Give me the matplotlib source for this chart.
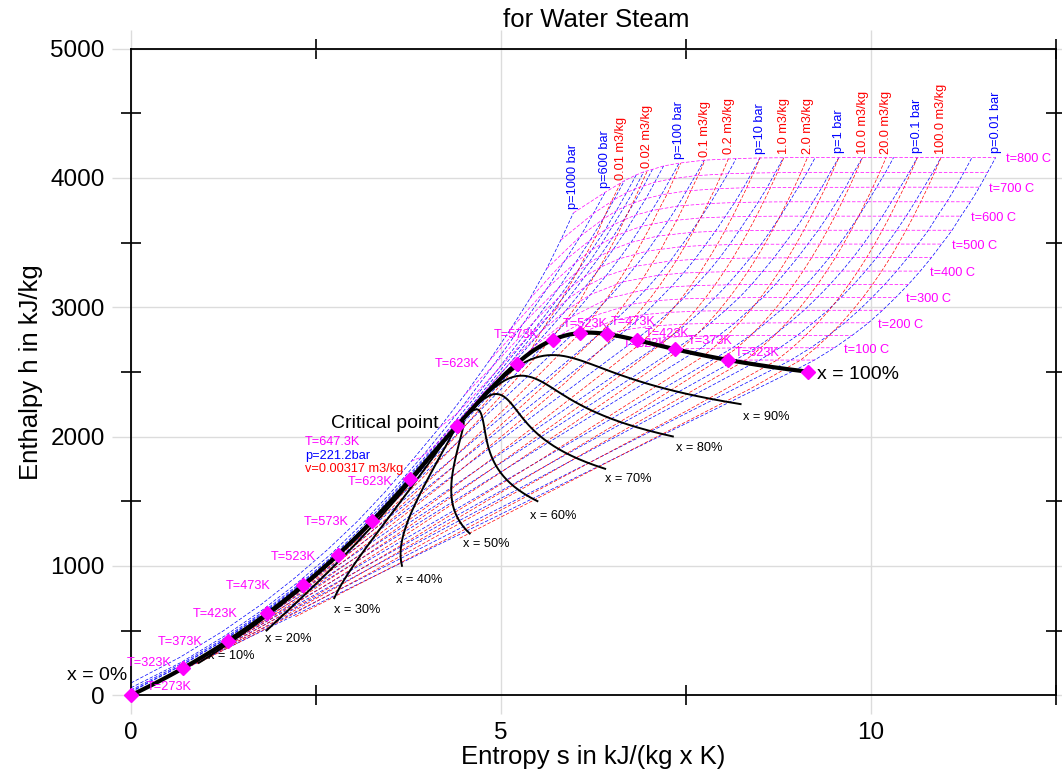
import numpy as np
import matplotlib
matplotlib.use('Agg')
import matplotlib.pyplot as plt

plt.rcParams['font.family'] = ['Liberation Sans', 'DejaVu Sans']

nan = np.nan

# saturated water / steam in 10 C steps, last row is the critical point
t_sat = [0.01, 10, 20, 30, 40, 50, 60, 70, 80, 90, 100, 110, 120, 130, 140, 150,
         160, 170, 180, 190, 200, 210, 220, 230, 240, 250, 260, 270, 280, 290, 300,
         310, 320, 330, 340, 350, 360, 370, 374.15]
h_liq = [0.0, 42.0, 83.9, 125.8, 167.6, 209.3, 251.1, 293.0, 334.9, 376.9, 419.0,
         461.3, 503.7, 546.3, 589.1, 632.2, 675.6, 719.2, 763.2, 807.6, 852.5, 897.8,
         943.6, 990.1, 1037.3, 1085.4, 1134.4, 1184.5, 1236.0, 1289.1, 1344.0, 1401.3,
         1461.5, 1525.3, 1594.2, 1670.6, 1760.5, 1890.5, 2084.3]
h_vap = [2501.4, 2519.8, 2538.1, 2556.3, 2574.3, 2592.1, 2609.6, 2626.8, 2643.7,
         2660.1, 2676.1, 2691.5, 2706.3, 2720.5, 2733.9, 2746.5, 2758.1, 2768.7,
         2778.2, 2786.4, 2793.2, 2798.5, 2802.1, 2804.0, 2803.8, 2801.5, 2796.6,
         2789.7, 2779.6, 2766.2, 2749.0, 2727.3, 2700.1, 2666.3, 2622.0, 2563.9,
         2481.0, 2332.1, 2084.3]
s_liq = [0.0, 0.1510, 0.2966, 0.4369, 0.5725, 0.7038, 0.8312, 0.9549, 1.0753, 1.1925,
         1.3069, 1.4185, 1.5276, 1.6344, 1.7391, 1.8418, 1.9427, 2.0419, 2.1396, 2.2359,
         2.3309, 2.4248, 2.5178, 2.6099, 2.7015, 2.7927, 2.8838, 2.9751, 3.0668, 3.1594,
         3.2534, 3.3493, 3.4480, 3.5507, 3.6594, 3.7777, 3.9147, 4.1106, 4.407]
s_vap = [9.1562, 8.9008, 8.6672, 8.4533, 8.2570, 8.0763, 7.9096, 7.7553, 7.6122,
         7.4791, 7.3549, 7.2387, 7.1296, 7.0269, 6.9299, 6.8379, 6.7502, 6.6663,
         6.5857, 6.5079, 6.4323, 6.3585, 6.2861, 6.2146, 6.1437, 6.0730, 6.0019,
         5.9301, 5.8571, 5.7821, 5.7045, 5.6230, 5.5362, 5.4417, 5.3357, 5.2112,
         5.0526, 4.7971, 4.407]
v_liq = [0.001000, 0.001000, 0.001002, 0.001004, 0.001008, 0.001012, 0.001017,
         0.001023, 0.001029, 0.001036, 0.001044, 0.001052, 0.001060, 0.001070,
         0.001080, 0.001091, 0.001102, 0.001114, 0.001127, 0.001141, 0.001157,
         0.001173, 0.001190, 0.001209, 0.001229, 0.001251, 0.001276, 0.001302,
         0.001332, 0.001366, 0.001404, 0.001447, 0.001499, 0.001561, 0.001638,
         0.001740, 0.001893, 0.002213, 0.00317]
v_vap = [206.1, 106.4, 57.79, 32.89, 19.52, 12.03, 7.671, 5.042, 3.407, 2.361, 1.673,
         1.210, 0.8919, 0.6685, 0.5089, 0.3928, 0.3071, 0.2428, 0.1941, 0.1565,
         0.1274, 0.1044, 0.08619, 0.07158, 0.05976, 0.05013, 0.04221, 0.03564,
         0.03017, 0.02557, 0.02167, 0.01835, 0.01549, 0.01300, 0.01080, 0.008813,
         0.006945, 0.004925, 0.00317]

# isotherms of the superheated / supercritical grid (C)
t_grid = [0, 50, 100, 150, 200, 250, 300, 350, 400, 450, 500, 550, 600, 650, 700, 750, 800]

# isobars (bar)
p_bar = [1000, 600, 400, 300, 250, 200, 150, 100, 50, 20, 10, 5, 2, 1, 0.5, 0.2, 0.1,
         0.05, 0.02, 0.01]
p_labelled = [1000, 600, 100, 10, 1, 0.1, 0.01]
p_crit = 221.2

# saturation points of the subcritical isobars
p_sub = [200, 150, 100, 50, 20, 10, 5, 2, 1, 0.5, 0.2, 0.1, 0.05, 0.02, 0.01]
s_liq_p = [4.014, 3.685, 3.360, 2.920, 2.447, 2.139, 1.861, 1.530, 1.303, 1.091,
           0.832, 0.649, 0.476, 0.261, 0.106]
h_liq_p = [1826.5, 1610.5, 1407.6, 1154.2, 908.8, 762.8, 640.2, 504.7, 417.5, 340.5,
           251.4, 191.8, 137.8, 73.5, 29.3]
s_vap_p = [4.930, 5.310, 5.614, 5.973, 6.341, 6.587, 6.821, 7.127, 7.359, 7.594,
           7.909, 8.150, 8.395, 8.724, 8.976]
h_vap_p = [2410.0, 2610.5, 2724.7, 2794.3, 2799.5, 2778.1, 2748.7, 2706.7, 2675.5,
           2645.9, 2609.7, 2584.7, 2561.5, 2533.9, 2514.2]

h_lowp = [nan, 2592, 2687, 2783, 2880, 2977, 3077, 3177, 3280, 3384, 3489, 3596, 3705,
          3816, 3929, 4043, 4159]

# entropy on t_grid, one row per isobar
s_p = [
    [0.00, 0.66, 1.24, 1.755, 2.22, 2.655, 3.06, 3.43, 3.79, 4.17, 4.52, 4.84, 5.13, 5.39, 5.62, 5.81, 5.98],
    [0.00, 0.68, 1.27, 1.79, 2.26, 2.71, 3.13, 3.50, 3.93, 4.41, 4.89, 5.31, 5.63, 5.87, 6.08, 6.25, 6.41],
    [0.00, 0.68, 1.28, 1.80, 2.28, 2.73, 3.14, 3.56, 4.11, 4.95, 5.47, 5.78, 6.01, 6.21, 6.38, 6.53, 6.67],
    [0.00, 0.69, 1.29, 1.81, 2.29, 2.74, 3.17, 3.66, 4.47, 5.44, 5.79, 6.03, 6.23, 6.41, 6.56, 6.70, 6.83],
    [0.00, 0.69, 1.29, 1.82, 2.30, 2.75, 3.19, 3.72, 5.14, 5.67, 5.96, 6.18, 6.36, 6.52, 6.67, 6.81, 6.93],
    [nan, nan, nan, nan, nan, nan, nan, nan, 5.55, 5.90, 6.14, 6.34, 6.51, 6.66, 6.80, 6.93, 7.05],
    [nan, nan, nan, nan, nan, nan, nan, 5.44, 5.88, 6.14, 6.35, 6.52, 6.68, 6.82, 6.96, 7.08, 7.20],
    [nan, nan, nan, nan, nan, nan, nan, 5.95, 6.21, 6.42, 6.60, 6.76, 6.90, 7.04, 7.17, 7.29, 7.41],
    [nan, nan, nan, nan, nan, nan, 6.21, 6.45, 6.65, 6.82, 6.98, 7.12, 7.26, 7.39, 7.51, 7.63, 7.75],
    [nan, nan, nan, nan, nan, 6.55, 6.77, 6.96, 7.13, 7.29, 7.43, 7.57, 7.70, 7.83, 7.95, 8.07, 8.18],
    [nan, nan, nan, nan, 6.70, 6.93, 7.12, 7.30, 7.47, 7.62, 7.76, 7.90, 8.03, 8.16, 8.28, 8.39, 8.50],
    [nan, nan, nan, nan, 7.06, 7.27, 7.46, 7.63, 7.80, 7.95, 8.09, 8.22, 8.35, 8.48, 8.60, 8.71, 8.82],
    [nan, nan, nan, 7.28, 7.51, 7.71, 7.89, 8.06, 8.22, 8.37, 8.52, 8.65, 8.78, 8.90, 9.02, 9.14, 9.25],
    [nan, nan, 7.36, 7.61, 7.83, 8.03, 8.22, 8.39, 8.54, 8.69, 8.83, 8.97, 9.10, 9.22, 9.34, 9.45, 9.57],
    [nan, nan, 7.70, 7.94, 8.16, 8.35, 8.54, 8.71, 8.86, 9.01, 9.15, 9.29, 9.42, 9.54, 9.66, 9.77, 9.89],
    [nan, nan, 8.13, 8.37, 8.58, 8.78, 8.96, 9.13, 9.29, 9.44, 9.58, 9.71, 9.84, 9.96, 10.08, 10.20, 10.31],
    [nan, 8.17, 8.45, 8.69, 8.90, 9.10, 9.28, 9.45, 9.61, 9.76, 9.90, 10.03, 10.16, 10.28, 10.40, 10.52, 10.63],
    [nan, 8.50, 8.77, 9.01, 9.22, 9.42, 9.60, 9.77, 9.93, 10.08, 10.22, 10.35, 10.48, 10.60, 10.72, 10.84, 10.95],
    [nan, 8.92, 9.19, 9.43, 9.65, 9.84, 10.02, 10.19, 10.35, 10.50, 10.64, 10.78, 10.90, 11.03, 11.15, 11.26, 11.37],
    [nan, 9.24, 9.51, 9.75, 9.97, 10.16, 10.34, 10.51, 10.67, 10.82, 10.96, 11.10, 11.22, 11.35, 11.47, 11.58, 11.69],
]
# enthalpy on t_grid, one row per isobar
h_p = [
    [95, 293, 495, 700, 910, 1125, 1345, 1570, 1810, 2070, 2330, 2585, 2830, 3065, 3300, 3520, 3730],
    [58, 255, 460, 665, 875, 1095, 1330, 1560, 1843, 2180, 2545, 2880, 3150, 3365, 3553, 3725, 3890],
    [40, 244, 447, 652, 862, 1080, 1310, 1575, 1931, 2513, 2903, 3149, 3346, 3521, 3681, 3832, 3979],
    [30, 236, 440, 646, 856, 1075, 1310, 1625, 2151, 2821, 3081, 3275, 3444, 3599, 3746, 3887, 4024],
    [25, 232, 436, 643, 853, 1073, 1313, 1647, 2580, 2950, 3162, 3336, 3491, 3637, 3778, 3914, 4047],
    [nan, nan, nan, nan, nan, nan, nan, nan, 2817, 3062, 3241, 3396, 3539, 3675, 3808, 3938, 4067],
    [nan, nan, nan, nan, nan, nan, nan, 2693, 2976, 3158, 3311, 3449, 3582, 3713, 3840, 3967, 4093],
    [nan, nan, nan, nan, nan, nan, nan, 2924, 3098, 3242, 3375, 3502, 3626, 3748, 3870, 3992, 4115],
    [nan, nan, nan, nan, nan, nan, 2926, 3069, 3197, 3317, 3435, 3551, 3667, 3783, 3900, 4018, 4138],
    [nan, nan, nan, nan, nan, 2903, 3024, 3138, 3248, 3358, 3468, 3579, 3691, 3803, 3918, 4033, 4150],
    [nan, nan, nan, nan, 2828, 2943, 3052, 3158, 3265, 3371, 3479, 3588, 3699, 3810, 3924, 4038, 4155],
    [nan, nan, nan, nan, 2856, 2961, 3065, 3168, 3272, 3377, 3485, 3592, 3703, 3814, 3927, 4041, 4157],
    [nan, nan, nan, 2769, 2871, 2971, 3072, 3174, 3277, 3381, 3488, 3595, 3705, 3816, 3928, 4042, 4159],
    [nan, nan, 2676, 2776, 2875, 2974, 3074, 3176, 3278, 3382, 3488, 3596, 3705, 3816, 3928, 4042, 4159],
    [nan, nan, 2682, 2780, 2877, 2976, 3075, 3177, 3279, 3383, 3489, 3596, 3705, 3816, 3928, 4043, 4159],
    [nan, nan, 2686, 2782, 2879, 2977, 3076, 3177, 3280, 3384, 3489, 3596, 3705, 3816, 3929, 4043, 4159],
    h_lowp,
    h_lowp,
    h_lowp,
    h_lowp,
]

# isochores (m3/kg)
v_m3kg = [0.01, 0.02, 0.05, 0.1, 0.2, 0.5, 1.0, 2.0, 5.0, 10.0, 20.0, 50.0, 100.0]
v_labelled = [0.01, 0.02, 0.1, 0.2, 1.0, 2.0, 10.0, 20.0, 100.0]

# dense steam isochores on t_grid
v_dense = [0.01, 0.02, 0.05, 0.1]
s_v = [
    [nan, nan, nan, nan, nan, nan, nan, 5.40, 5.55, 5.74, 5.89, 6.04, 6.15, 6.29, 6.39, 6.50, 6.62],
    [nan, nan, nan, nan, nan, nan, nan, 5.87, 6.06, 6.19, 6.33, 6.45, 6.57, 6.67, 6.78, 6.88, 6.98],
    [nan, nan, nan, nan, nan, nan, 6.26, 6.43, 6.57, 6.70, 6.82, 6.93, 7.04, 7.14, 7.25, 7.34, 7.43],
    [nan, nan, nan, nan, nan, 6.50, 6.65, 6.80, 6.93, 7.05, 7.17, 7.27, 7.38, 7.48, 7.57, 7.67, 7.76],
]
h_v = [
    [nan, nan, nan, nan, nan, nan, nan, 2665, 2816, 2984, 3130, 3279, 3409, 3552, 3688, 3825, 3962],
    [nan, nan, nan, nan, nan, nan, nan, 2893, 3041, 3174, 3304, 3428, 3553, 3676, 3802, 3930, 4055],
    [nan, nan, nan, nan, nan, nan, 2937, 3065, 3183, 3299, 3414, 3529, 3644, 3760, 3878, 3995, 4115],
    [nan, nan, nan, nan, nan, 2893, 3011, 3124, 3232, 3343, 3454, 3563, 3675, 3790, 3904, 4022, 4138],
]

# low density steam at 1 bar on t_grid (reference for the thin isochores)
s_ref = [nan, 7.112, 7.361, 7.613, 7.834, 8.033, 8.216, 8.386, 8.544, 8.693, 8.834,
         8.969, 9.098, 9.220, 9.340, 9.454, 9.565]
h_ref = [nan, 2592, 2676, 2776, 2875, 2974, 3074, 3176, 3278, 3382, 3488, 3596, 3705,
         3816, 3928, 4042, 4159]
R_steam = 0.4615  # kJ/(kg K)

quality = [0.1, 0.2, 0.3, 0.4, 0.5, 0.6, 0.7, 0.8, 0.9]
marker_t = [0.01, 50, 100, 150, 200, 250, 300, 350]

# ---------------------------------------------------------------------------
fig = plt.figure(figsize=(10.62, 7.8), dpi=100)
ax = fig.add_axes([131.1 / 1062, 1 - 695.2 / 780, 924.5 / 1062, 646.5 / 780])

T = np.array(t_grid, float)
S_p = np.array(s_p, float)
H_p = np.array(h_p, float)
ts = np.array(t_sat)
sl, sv = np.array(s_liq), np.array(s_vap)
hl, hv = np.array(h_liq), np.array(h_vap)
vl, vv = np.array(v_liq), np.array(v_vap)

dash = dict(lw=0.5, ls=(0, (5, 2.5)), zorder=2)
small = 9.2

# isobars: liquid -> wet straight line -> superheated
for i, p in enumerate(p_bar):
    ok = ~np.isnan(S_p[i])
    s_line = list(S_p[i][ok])
    h_line = list(H_p[i][ok])
    if p < p_crit:
        k = p_sub.index(p)
        s_line = [s_liq_p[k], s_vap_p[k]] + s_line
        h_line = [h_liq_p[k], h_vap_p[k]] + h_line
    ax.plot(s_line, h_line, color='blue', **dash)
    if p in p_labelled:
        ax.annotate(f'p={p:g} bar', (s_line[-1], h_line[-1]), xytext=(0, 4),
                    textcoords='offset pixels', rotation=90, ha='center', va='bottom',
                    color='blue', fontsize=small)

# isochores: wet part from the saturation table, then the superheated part
for v in v_m3kg:
    x = (v - vl[:-1]) / (vv[:-1] - vl[:-1])
    wet = x <= 1
    s_line = list(sl[:-1][wet] + x[wet] * (sv[:-1][wet] - sl[:-1][wet]))
    h_line = list(hl[:-1][wet] + x[wet] * (hv[:-1][wet] - hl[:-1][wet]))
    t_last = ts[:-1][wet].max()
    if v in v_dense:
        k = v_dense.index(v)
        sv_row, hv_row = np.array(s_v[k]), np.array(h_v[k])
        ok = ~np.isnan(sv_row)
        s_line += list(sv_row[ok])
        h_line += list(hv_row[ok])
    else:
        cols = (T > t_last) & ~np.isnan(np.array(s_ref))
        p_v = R_steam * (T[cols] + 273.15) / v / 100.0
        s_line += list(np.array(s_ref)[cols] - R_steam * np.log(p_v))
        h_line += list(np.array(h_ref)[cols])
    ax.plot(s_line, h_line, color='red', **dash)
    if v in v_labelled:
        ax.annotate(f'{v} m3/kg', (s_line[-1], h_line[-1]), xytext=(0, 3),
                    textcoords='offset pixels', rotation=90, ha='center', va='bottom',
                    color='red', fontsize=small)

# isotherms in the superheated region
for j, t in enumerate(t_grid):
    if t == 0:
        continue
    s_line, h_line = [], []
    if t < 374:
        k = t_sat.index(t)
        s_line.append(s_vap[k])
        h_line.append(h_vap[k])
    for i, p in enumerate(p_bar):
        if p > p_crit and t < 374:
            continue
        if np.isnan(S_p[i, j]):
            continue
        s_line.append(S_p[i, j])
        h_line.append(H_p[i, j])
    ax.plot(s_line, h_line, color='magenta', **dash)
    if t % 100 == 0:
        ax.annotate(f't={t} C', (s_line[-1], h_line[-1]), xytext=(10, -2),
                    textcoords='offset pixels', ha='left', va='center',
                    color='magenta', fontsize=small)

# lines of constant steam quality
x_label_off = [(9, 7), (-1.5, -8), (0, -12), (-6, -14), (-7, -10.5), (-7, -15),
               (0, -10.5), (3, -12), (2, -12.6)]
for q, off in zip(quality, x_label_off):
    s_q = sl + q * (sv - sl)
    h_q = hl + q * (hv - hl)
    ax.plot(s_q, h_q, color='black', lw=1.4, zorder=4)
    ax.annotate(f'x = {q * 100:.0f}%', (s_q[0], h_q[0]), xytext=off,
                textcoords='offset pixels', ha='left', va='center', fontsize=small)

# saturation curve
ax.plot(list(s_liq) + list(s_vap[::-1]), list(h_liq) + list(h_vap[::-1]),
        color='black', lw=3, zorder=5, solid_capstyle='round')
ax.annotate('x = 0%', (s_liq[0], h_liq[0]), xytext=(-4, 19.5), textcoords='offset pixels',
            ha='right', va='center', fontsize=14)
ax.annotate('x = 100%', (s_vap[0], h_vap[0]), xytext=(9, -3.2), textcoords='offset pixels',
            ha='left', va='center', fontsize=14)

# temperature markers on both branches
idx = [t_sat.index(t) for t in marker_t]
ax.plot([s_liq[k] for k in idx], [h_liq[k] for k in idx], 'D', color='magenta', ms=7,
        zorder=6, clip_on=False)
ax.plot([s_vap[k] for k in idx], [h_vap[k] for k in idx], 'D', color='magenta', ms=7,
        zorder=6, clip_on=False)
ax.plot(s_liq[-1], h_liq[-1], 'D', color='magenta', ms=7, zorder=6)

liq_off = [(38, 8.5), (-34, 5.4), (-48, -1.4), (-52, -0.7), (-55, -1), (-44, -2.3),
           (-45, -0.7), (-40.5, -2.7)]
vap_off = [None, (29, 7), (35.3, 8.5), (30.6, 6), (26.4, 11.7), (5, 9), (-37, 4.3),
           (-59, 0)]
for k, t, lo, vo in zip(idx, marker_t, liq_off, vap_off):
    label = f'T={t + 273:.0f}K'
    ax.annotate(label, (s_liq[k], h_liq[k]), xytext=lo, textcoords='offset pixels',
                ha='center', va='center', color='magenta', fontsize=small, zorder=7)
    if vo is not None:
        ax.annotate(label, (s_vap[k], h_vap[k]), xytext=vo, textcoords='offset pixels',
                    ha='center', va='center', color='magenta', fontsize=small, zorder=7)
k423 = t_sat.index(150)
ax.annotate('T=323K', (s_vap[k423], h_vap[k423]), xytext=(8, -4), textcoords='offset pixels',
            ha='center', va='center', color='magenta', fontsize=small, zorder=3)

# critical point
sc, hc = s_liq[-1], h_liq[-1]
ax.annotate('Critical point', (sc, hc), xytext=(-72, -2.6), textcoords='offset pixels',
            ha='center', va='baseline', fontsize=14)
ax.annotate('T=647.3K', (sc, hc), xytext=(-152, -19.3), textcoords='offset pixels',
            ha='left', va='baseline', color='magenta', fontsize=small)
ax.annotate('p=221.2bar', (sc, hc), xytext=(-152, -33.3), textcoords='offset pixels',
            ha='left', va='baseline', color='blue', fontsize=small)
ax.annotate('v=0.00317 m3/kg', (sc, hc), xytext=(-152, -46.6), textcoords='offset pixels',
            ha='left', va='baseline', color='red', fontsize=small)

# axes
ax.set_xlim(0, 12.5)
ax.set_ylim(0, 5000)
ax.set_xticks([0, 5, 10])
ax.set_yticks(range(0, 5001, 1000))
ax.set_xticks([2.5, 7.5, 12.5], minor=True)
ax.set_yticks(range(500, 5000, 1000), minor=True)
ax.grid(True, which='major', color='#dcdcdc', lw=1)
ax.tick_params(which='major', direction='out', length=14, width=1, color='#dcdcdc',
               labelsize=17.5, pad=5, top=True, right=True)
ax.tick_params(which='minor', direction='inout', length=15, width=1.2, color='black',
               top=True, right=True)
for sp in ax.spines.values():
    sp.set_linewidth(1.3)
ax.set_xlabel('Entropy s in kJ/(kg x K)', fontsize=18.5, labelpad=1)
ax.set_ylabel('Enthalpy h in kJ/kg', fontsize=18.5, labelpad=5)
fig.text(596 / 1062, 1 - 20 / 780, 'for Water Steam', ha='center', va='center',
         fontsize=18.5)

fig.savefig('out.png', dpi=100)
